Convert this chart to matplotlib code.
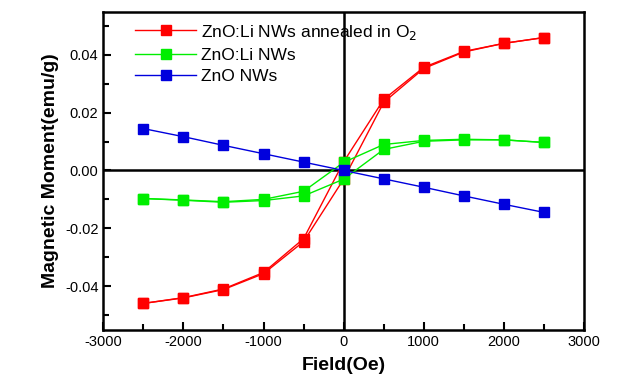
import numpy as np
import matplotlib.pyplot as plt
from matplotlib.ticker import MultipleLocator

plt.rcParams['font.family'] = ['Liberation Sans', 'DejaVu Sans']
plt.rcParams['axes.unicode_minus'] = False

# field values for the two loop branches (Oe)
field_down = [2500, 2000, 1500, 1000, 500, 0, -500, -1000, -1500, -2000, -2500]
field_up = [-2500, -2000, -1500, -1000, -500, 0, 500, 1000, 1500, 2000, 2500]

# ZnO:Li NWs annealed in O2
red_down = [0.0460, 0.0440, 0.0412, 0.0357, 0.0246, 0.0030, -0.0236, -0.0353, -0.0410, -0.0440, -0.0460]
red_up = [-0.0460, -0.0441, -0.0412, -0.0357, -0.0246, -0.0030, 0.0236, 0.0353, 0.0410, 0.0440, 0.0460]

# ZnO:Li NWs
green_down = [0.0097, 0.0106, 0.0108, 0.0104, 0.0090, 0.0028, -0.0072, -0.0100, -0.0108, -0.0102, -0.0097]
green_up = [-0.0097, -0.0103, -0.0110, -0.0104, -0.0088, -0.0030, 0.0073, 0.0101, 0.0106, 0.0106, 0.0097]

# ZnO NWs
blue_x = [-2500, -2000, -1500, -1000, -500, 0, 500, 1000, 1500, 2000, 2500]
blue_y = [0.0145, 0.0117, 0.0087, 0.0058, 0.0029, 0.0, -0.0029, -0.0058, -0.0088, -0.0117, -0.0145]

fig = plt.figure(figsize=(6.22, 3.91), dpi=100)
ax = fig.add_axes([0.166, 0.156, 0.773, 0.813])

ax.axhline(0, color='black', lw=1.8, zorder=1)
ax.axvline(0, color='black', lw=1.8, zorder=1)

ms = 7
ax.plot(field_down, red_down, color='red', marker='s', ms=ms, lw=1,
        label='ZnO:Li NWs annealed in O$_2$', zorder=3)
ax.plot(field_up, red_up, color='red', marker='s', ms=ms, lw=1, zorder=3)
ax.plot(field_down, green_down, color='#00ee00', marker='s', ms=ms, lw=1,
        label='ZnO:Li NWs', zorder=4)
ax.plot(field_up, green_up, color='#00ee00', marker='s', ms=ms, lw=1, zorder=4)
ax.plot(blue_x, blue_y, color='#0000dd', marker='s', ms=ms, lw=1,
        label='ZnO NWs', zorder=5)

ax.set_xlim(-3000, 3000)
ax.set_ylim(-0.0552, 0.0548)
ax.xaxis.set_major_locator(MultipleLocator(1000))
ax.xaxis.set_minor_locator(MultipleLocator(500))
ax.yaxis.set_major_locator(MultipleLocator(0.02))
ax.yaxis.set_minor_locator(MultipleLocator(0.01))
ax.yaxis.set_major_formatter(plt.FuncFormatter(lambda v, p: f'{v:.2f}'))
ax.tick_params(which='both', direction='in', width=1.5, labelsize=10.5,
               top=False, right=False)
ax.tick_params(which='major', length=6)
ax.tick_params(which='minor', length=4)
for s in ax.spines.values():
    s.set_linewidth(1.8)

ax.set_xlabel('Field(Oe)', fontsize=14, fontweight='bold', labelpad=6)
ax.set_ylabel('Magnetic Moment(emu/g)', fontsize=14, fontweight='bold', labelpad=4)

leg = ax.legend(loc='upper left', frameon=False, fontsize=12.5, handlelength=3.5,
                handletextpad=0.3, borderaxespad=0.2, labelspacing=0.35,
                bbox_to_anchor=(0.045, 1.0))

fig.savefig('out.png', dpi=100)
